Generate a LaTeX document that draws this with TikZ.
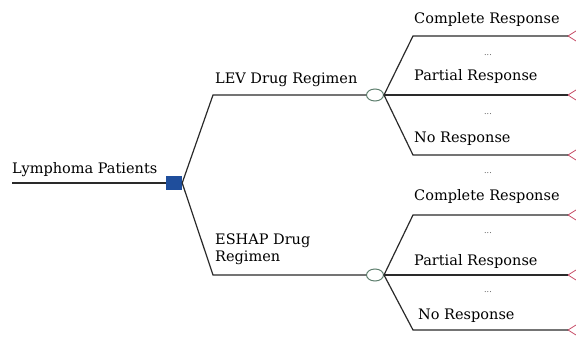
\documentclass[tikz,border=0pt]{standalone}
\usepackage{fontspec}
\setmainfont{DejaVu Serif}
\usetikzlibrary{shapes.geometric}
\definecolor{linec}{HTML}{2A2A2A}
\definecolor{boxc}{HTML}{1F4E9C}
\definecolor{chancec}{HTML}{5E7F6E}
\definecolor{termc}{HTML}{C8506A}
\begin{document}
\begin{tikzpicture}[x=1pt,y=-1pt,
  edge/.style={draw=linec,line width=1.2pt},
  lbl/.style={anchor=west,inner sep=0pt,font=\fontsize{14.5}{17}\selectfont,text=black},
  dots/.style={inner sep=0pt,font=\fontsize{8}{9}\selectfont,text=black!70},
  decbox/.style={rectangle,fill=boxc,minimum width=16pt,minimum height=14pt,inner sep=0pt},
  chance/.style={ellipse,draw=chancec,fill=white,line width=1pt,minimum width=17pt,minimum height=12pt,inner sep=0pt},
  term/.style={draw=termc,line width=0.8pt}]
\useasboundingbox (0,0) rectangle (576,339);
% root
\coordinate (start) at (12,183);
\node[decbox] (dec) at (174,183) {};
\node[lbl] (lp) at (12,170) {Lymphoma Patients};
\draw[edge] (start) -- (dec.west);
% LEV
\coordinate (levk) at (213,95);
\node[chance] (c1) at (375,95) {};
\node[lbl] (lev) at (215,80) {LEV Drug Regimen};
\draw[edge] (dec.east) -- (levk) -- (c1.west);
% ESHAP
\coordinate (eshk) at (213,275);
\node[chance] (c2) at (375,275) {};
\node[lbl,align=left] (esh) at (215,249) {ESHAP Drug\\Regimen};
\draw[edge] (dec.east) -- (eshk) -- (c2.west);
% terminals
\foreach \n/\y in {t1/36,t2/95,t3/155,t4/215,t5/275,t6/330}{
  \coordinate (\n) at (568,\y);
  \draw[term] (576,\y-5) -- (\n) -- (576,\y+5);
}
\coordinate (k1) at (413,36);
\coordinate (k3) at (413,155);
\coordinate (k4) at (413,215);
\coordinate (k6) at (413,330);
\draw[edge] (c1.east) -- (k1) -- (t1);
\draw[edge] (c1.east) -- (t2);
\draw[edge] (c1.east) -- (k3) -- (t3);
\draw[edge] (c2.east) -- (k4) -- (t4);
\draw[edge] (c2.east) -- (t5);
\draw[edge] (c2.east) -- (k6) -- (t6);
% outcome labels
\node[lbl] (r1) at (414,20) {Complete Response};
\node[lbl] (r2) at (414,77) {Partial Response};
\node[lbl] (r3) at (414,139) {No Response};
\node[lbl] (r4) at (414,197) {Complete Response};
\node[lbl] (r5) at (414,262) {Partial Response};
\node[lbl] (r6) at (418,316) {No Response};
\node[dots] (d1) at (488,55) {...};
\node[dots] (d2) at (488,114) {...};
\node[dots] (d3) at (488,173) {...};
\node[dots] (d4) at (488,233) {...};
\node[dots] (d5) at (488,292) {...};
\end{tikzpicture}
\end{document}
